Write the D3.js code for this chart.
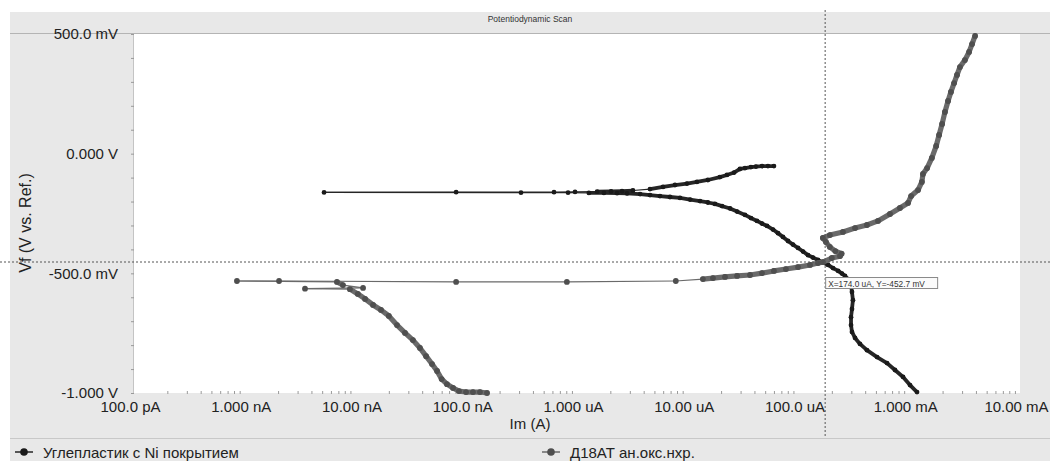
<!DOCTYPE html>
<html>
<head>
<meta charset="utf-8">
<script src="https://cdn.jsdelivr.net/npm/d3@7"></script>
<style>
  body { margin: 0; background: #fff; }
  svg { display: block; font-family: "Liberation Sans", Arial, sans-serif; }
</style>
</head>
<body>
<svg id="chart" width="1050" height="461"></svg>
<script>
/* ------------------------- DATA ------------------------- */

// [current (A), potential (V)], in scan order
var seriesNi = [
  [1.175e-3,-0.996],[1.016e-3,-0.967],[8.79e-4,-0.933],[7.43e-4,-0.904],[6.30e-4,-0.875],
  [5.12e-4,-0.850],[4.15e-4,-0.821],[3.59e-4,-0.795],[3.24e-4,-0.770],[3.04e-4,-0.745],
  [2.98e-4,-0.716],[2.98e-4,-0.683],[3.04e-4,-0.649],[3.10e-4,-0.612],[3.04e-4,-0.578],
  [2.98e-4,-0.549],[2.80e-4,-0.524],[2.63e-4,-0.511],[2.47e-4,-0.501],[2.28e-4,-0.490],
  [2.05e-4,-0.478],[1.85e-4,-0.465],[1.66e-4,-0.455],[1.50e-4,-0.444],[1.35e-4,-0.434],
  [1.22e-4,-0.424],[1.10e-4,-0.409],[9.9e-5,-0.394],[8.92e-5,-0.380],[8.04e-5,-0.365],
  [7.24e-5,-0.348],[6.53e-5,-0.332],[5.89e-5,-0.317],[5.20e-5,-0.302],[4.68e-5,-0.292],
  [4.22e-5,-0.281],[3.72e-5,-0.269],[3.29e-5,-0.256],[2.79e-5,-0.242],[2.41e-5,-0.229],
  [2.04e-5,-0.219],[1.76e-5,-0.210],[1.52e-5,-0.204],[1.29e-5,-0.198],[1.05e-5,-0.192],
  [8.51e-6,-0.185],[6.91e-6,-0.181],[5.61e-6,-0.177],[4.56e-6,-0.173],[3.71e-6,-0.169],
  [2.83e-6,-0.166],[2.30e-6,-0.165],[1.75e-6,-0.164],[1.28e-6,-0.164],[8.3e-7,-0.163],
  [3.12e-7,-0.163],[5.2e-9,-0.162],[8.1e-8,-0.161],[6.2e-7,-0.161],[9.6e-7,-0.160],
  [1.52e-6,-0.159],[2.03e-6,-0.158],[2.55e-6,-0.157],[3.2e-6,-0.154],
  [4.56e-6,-0.148],[5.98e-6,-0.139],[7.67e-6,-0.131],[9.84e-6,-0.125],[1.21e-5,-0.118],
  [1.52e-5,-0.110],[1.95e-5,-0.098],[2.26e-5,-0.089],[2.62e-5,-0.079],[2.96e-5,-0.064],
  [3.29e-5,-0.060],[3.72e-5,-0.056],[4.13e-5,-0.054],[4.68e-5,-0.052],[5.3e-5,-0.052],
  [6.0e-5,-0.052]
]

var seriesD18 = [
  [1.54e-7,-1.000],[1.33e-7,-0.996],[1.15e-7,-0.996],[9.95e-8,-0.996],[8.6e-8,-0.992],
  [7.6e-8,-0.979],[6.7e-8,-0.963],[6.0e-8,-0.942],[5.45e-8,-0.908],[4.91e-8,-0.879],
  [4.34e-8,-0.846],[3.82e-8,-0.812],[3.30e-8,-0.779],[2.80e-8,-0.749],[2.37e-8,-0.716],
  [2.00e-8,-0.678],[1.70e-8,-0.653],[1.44e-8,-0.632],[1.22e-8,-0.607],[1.05e-8,-0.586],
  [8.9e-9,-0.566],[3.5e-9,-0.564],[1.17e-8,-0.561],[7.7e-9,-0.549],[6.8e-9,-0.536],
  [8.5e-10,-0.532],[2.04e-9,-0.532],[8.1e-8,-0.536],[8.1e-7,-0.536],[7.8e-6,-0.532],
  [1.37e-5,-0.524],[1.69e-5,-0.520],[2.17e-5,-0.515],[2.79e-5,-0.511],[3.65e-5,-0.507],
  [4.68e-5,-0.499],[6.0e-5,-0.490],[7.7e-5,-0.482],[9.9e-5,-0.474],[1.27e-4,-0.465],
  [1.50e-4,-0.457],[1.66e-4,-0.453],
  [2.00e-4,-0.436],[2.37e-4,-0.428],[2.45e-4,-0.418],[2.15e-4,-0.407],[1.92e-4,-0.390],
  [1.77e-4,-0.369],[1.66e-4,-0.352],[1.92e-4,-0.340],[2.52e-4,-0.327],[3.24e-4,-0.311],
  [4.15e-4,-0.298],[5.22e-4,-0.281],[6.70e-4,-0.252],[8.24e-4,-0.227],[9.75e-4,-0.206],
  [1.04e-3,-0.177],[1.20e-3,-0.152],[1.30e-3,-0.118],[1.33e-3,-0.085],[1.45e-3,-0.060],
  [1.60e-3,-0.018],[1.75e-3,0.032],[1.86e-3,0.078],[1.98e-3,0.124],[2.10e-3,0.174],
  [2.24e-3,0.220],[2.38e-3,0.258],[2.54e-3,0.295],[2.70e-3,0.329],[2.87e-3,0.362],
  [3.18e-3,0.391],[3.47e-3,0.425],[3.69e-3,0.458],[3.93e-3,0.492]
]

var seriesNames = ["Углепластик с Ni покрытием", "Д18АТ ан.окс.нхр."]
var seriesColors = ["#262626", "#6a6a6a"]
var markerColors = ["#1a1a1a", "#4f4f4f"]

var xTickValues = [1e-10, 1e-9, 1e-8, 1e-7, 1e-6, 1e-5, 1e-4, 1e-3, 1e-2]
var xTickLabels = ["100.0 pA", "1.000 nA", "10.00 nA", "100.0 nA", "1.000 uA", "10.00 uA", "100.0 uA", "1.000 mA", "10.00 mA"]
var yTickValues = [0.5, 0, -0.5, -1]
var yTickLabels = ["500.0 mV", "0.000 V", "-500.0 mV", "-1.000 V"]

var cursorPoint = [174.0e-6, -0.4527]
var cursorText = "X=174.0 uA, Y=-452.7 mV"

/* ------------------------- LAYOUT ------------------------- */

var svg = d3.select("#chart")
var plot = { left: 134, right: 1020, top: 34, bottom: 393 }

var x = d3.scaleLog().domain([1e-10, 1e-2]).range([plot.left, plot.right])
var y = d3.scaleLinear().domain([-1, 0.5]).range([plot.bottom, plot.top])

// grey panel + title band
svg.append("rect").attr("x", 10).attr("y", 12).attr("width", 1040).attr("height", 449).attr("fill", "#e8e8e8")
svg.append("rect").attr("x", plot.left).attr("y", plot.top)
    .attr("width", plot.right - plot.left).attr("height", plot.bottom - plot.top)
    .attr("fill", "#ffffff")
svg.append("line").attr("x1", 10).attr("x2", 1050).attr("y1", 33.5).attr("y2", 33.5)
    .attr("stroke", "#b4b4b4")
svg.append("line").attr("x1", plot.left - 0.5).attr("x2", plot.left - 0.5).attr("y1", plot.top).attr("y2", plot.bottom)
    .attr("stroke", "#c4c4c4")
svg.append("text").attr("x", 530).attr("y", 22).attr("text-anchor", "middle")
    .attr("font-size", 8.5).attr("fill", "#333").text("Potentiodynamic Scan")

/* ------------------------- AXES ------------------------- */

var yMinor = d3.range(-10, 6).map(function (d) { return d / 10 })
svg.append("g").attr("transform", "translate(" + plot.left + ",0)")
    .call(d3.axisLeft(y).tickValues(yMinor).tickSize(3).tickFormat(""))
    .call(function (g) { g.select(".domain").remove(); g.selectAll("line").attr("stroke", "#999") })

svg.append("g").attr("transform", "translate(" + plot.left + ",0)")
    .call(d3.axisLeft(y).tickValues(yTickValues).tickSize(0).tickPadding(16)
        .tickFormat(function (d, i) { return yTickLabels[i] }))
    .call(function (g) {
        g.select(".domain").remove()
        g.selectAll("text").attr("font-size", 15).attr("fill", "#222")
            .attr("font-family", "'Liberation Sans', Arial, sans-serif")
    })

var xMinor = []
for (var e = -10; e < -2; e++) for (var m = 2; m <= 9; m++) xMinor.push(m * Math.pow(10, e))
svg.append("g").attr("transform", "translate(0," + (plot.bottom - 2) + ")")
    .call(d3.axisBottom(x).tickValues(xMinor).tickSize(3).tickFormat(""))
    .call(function (g) { g.select(".domain").remove(); g.selectAll("line").attr("stroke", "#9a9a9a") })

svg.append("g").attr("transform", "translate(0," + plot.bottom + ")")
    .call(d3.axisBottom(x).tickValues(xTickValues).tickSize(0).tickPadding(8)
        .tickFormat(function (d, i) { return xTickLabels[i] }))
    .call(function (g) {
        g.select(".domain").remove()
        g.selectAll("text").attr("font-size", 15).attr("fill", "#222").attr("dx", -4)
            .attr("font-family", "'Liberation Sans', Arial, sans-serif")
    })

svg.append("text").attr("x", 530).attr("y", 429).attr("text-anchor", "middle")
    .attr("font-size", 15).attr("fill", "#222").text("Im (A)")
svg.append("text").attr("transform", "translate(31,223) rotate(-90)").attr("text-anchor", "middle")
    .attr("font-size", 16).attr("fill", "#222").text("Vf (V vs. Ref.)")

/* ------------------------- SERIES ------------------------- */

// dense runs of points merge into a thick trace, sparse ones stay a thin line
function drawSeries(data, i) {
    var g = svg.append("g").attr("class", "series" + i)
    var pts = data.map(function (d) { return [x(d[0]), y(d[1])] })
    g.selectAll("line").data(d3.pairs(pts)).enter().append("line")
        .attr("x1", function (d) { return d[0][0] }).attr("y1", function (d) { return d[0][1] })
        .attr("x2", function (d) { return d[1][0] }).attr("y2", function (d) { return d[1][1] })
        .attr("stroke", seriesColors[i])
        .attr("stroke-linecap", "round")
        .attr("stroke-width", function (d) {
            var len = Math.hypot(d[1][0] - d[0][0], d[1][1] - d[0][1])
            return len < 16 ? (i == 0 ? 3.8 : 5.2) : 1.2
        })
    g.selectAll("circle").data(pts).enter().append("circle")
        .attr("cx", function (d) { return d[0] }).attr("cy", function (d) { return d[1] })
        .attr("r", i == 0 ? 2.4 : 2.9)
        .attr("fill", markerColors[i])
}
drawSeries(seriesNi, 0)
drawSeries(seriesD18, 1)

/* ------------------------- CURSOR ------------------------- */

var cx = x(cursorPoint[0]), cy = y(cursorPoint[1])
svg.append("line").attr("x1", 0).attr("x2", 1050).attr("y1", cy).attr("y2", cy)
    .attr("stroke", "#555").attr("stroke-dasharray", "2,2")
svg.append("line").attr("x1", cx).attr("x2", cx).attr("y1", 10).attr("y2", 438)
    .attr("stroke", "#555").attr("stroke-dasharray", "2,2")
svg.append("rect").attr("x", cx + 0.5).attr("y", cy + 15.5).attr("width", 112).attr("height", 11)
    .attr("fill", "#fbfbfb").attr("stroke", "#8a8a8a")
svg.append("text").attr("x", cx + 3).attr("y", cy + 24.5)
    .attr("font-size", 8.3).attr("fill", "#333").text(cursorText)

/* ------------------------- LEGEND ------------------------- */

svg.append("line").attr("x1", 10).attr("x2", 1050).attr("y1", 438.5).attr("y2", 438.5).attr("stroke", "#c8c8c8")
var legendX = [15, 542]
seriesNames.forEach(function (name, i) {
    var lg = svg.append("g").attr("transform", "translate(" + legendX[i] + ",452)")
    lg.append("line").attr("x1", 0).attr("x2", 18).attr("stroke", seriesColors[i]).attr("stroke-width", 1.5)
    lg.append("circle").attr("cx", 9).attr("r", 3.8).attr("fill", markerColors[i])
    lg.append("text").attr("x", 28).attr("y", 5.5).attr("font-size", 15).attr("fill", "#222").text(name)
})
</script>
</body>
</html>
